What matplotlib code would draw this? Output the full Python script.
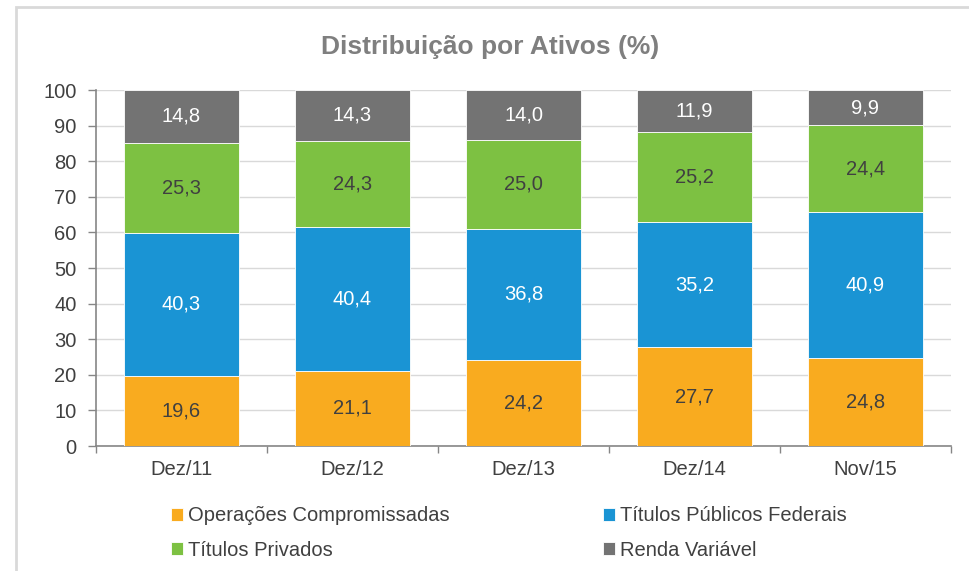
import matplotlib
matplotlib.use("Agg")
import matplotlib.pyplot as plt
from matplotlib.patches import Rectangle
import numpy as np

plt.rcParams['font.family'] = ['Liberation Sans', 'DejaVu Sans']

categories = ["Dez/11", "Dez/12", "Dez/13", "Dez/14", "Nov/15"]
series_names = ["Operações Compromissadas", "Títulos Públicos Federais",
                "Títulos Privados", "Renda Variável"]
operacoes = [19.6, 21.1, 24.2, 27.7, 24.8]
publicos = [40.3, 40.4, 36.8, 35.2, 40.9]
privados = [25.3, 24.3, 25.0, 25.2, 24.4]
renda = [14.8, 14.3, 14.0, 11.9, 9.9]
yticks = list(range(0, 101, 10))

colors = ["#F9AB1F", "#1A94D4", "#7DC142", "#737373"]
label_colors = ["#404040", "white", "#404040", "white"]

fig = plt.figure(figsize=(9.69, 5.71), dpi=100)
ax = fig.add_axes([96/969, 1-446/571, (951-96)/969, (446-90)/571])

x = np.arange(len(categories))
bottom = np.zeros(len(categories))
handles = []
for vals, col, lc, name in zip([operacoes, publicos, privados, renda], colors, label_colors, series_names):
    vals = np.array(vals)
    b = ax.bar(x, vals, bottom=bottom, width=0.667, color=col, edgecolor="white",
               linewidth=0.6, label=name, zorder=3)
    handles.append(b)
    for xi, v, bt in zip(x, vals, bottom):
        yc = bt + v/2
        if bt + v > 100:
            yc = bt + (100 - bt)/2
        ax.text(xi, yc, f"{v:.1f}".replace(".", ","), ha="center", va="center",
                fontsize=14.5, color=lc, zorder=4)
    bottom = bottom + vals

ax.set_xlim(-0.5, len(categories) - 0.5)
ax.set_ylim(0, 100)
ax.set_yticks(yticks)
ax.set_yticklabels([str(t) for t in yticks])
ax.set_xticks(x)
ax.set_xticklabels(categories)
ax.set_xticks(np.arange(-0.5, len(categories)), minor=True)
ax.tick_params(axis="x", which="major", length=0, pad=10, labelsize=14.5, labelcolor="#404040")
ax.tick_params(axis="x", which="minor", length=5, color="#868686", width=1)
ax.tick_params(axis="y", length=6, color="#868686", width=1, labelsize=14.5, labelcolor="#404040", pad=8)
ax.grid(axis="y", color="#d9d9d9", linewidth=1, zorder=0)
ax.set_axisbelow(True)
for s in ["top", "right"]:
    ax.spines[s].set_visible(False)
for s in ["left", "bottom"]:
    ax.spines[s].set_color("#868686")
    ax.spines[s].set_linewidth(1.2)

fig.text(490/969, 1-47/571, "Distribuição por Ativos (%)", ha="center", va="center",
         fontsize=19, fontweight="bold", color="#7f7f7f")

order = [0, 2, 1, 3]
leg = fig.legend([handles[i] for i in order], [series_names[i] for i in order],
                 ncol=2, loc="center", bbox_to_anchor=(509/969, 1-533/571),
                 frameon=False, fontsize=14.5, handlelength=0.6, handleheight=0.6,
                 handletextpad=0.25, columnspacing=7.6, labelspacing=0.75)
for t in leg.get_texts():
    t.set_color("#404040")

fig.patches.append(Rectangle((16/969, -0.1), 2, 1.1 - 7/571, transform=fig.transFigure,
                             fill=False, edgecolor="#d9d9d9", linewidth=2))

fig.savefig("out.png", dpi=100)
